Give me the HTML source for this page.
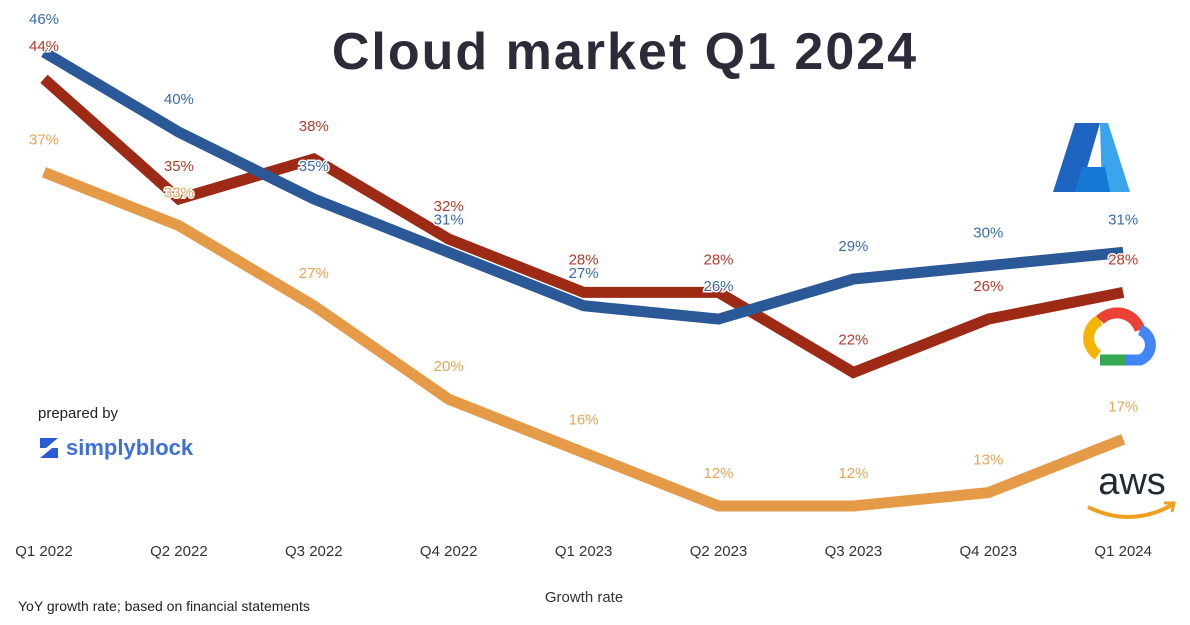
<!DOCTYPE html>
<html><head><meta charset="utf-8"><style>
body{margin:0;background:#fff;width:1190px;height:620px;overflow:hidden;font-family:"Liberation Sans",sans-serif}
</style></head><body>
<svg width="1190" height="620" viewBox="0 0 1190 620" id="svg">
<text x="625" y="69" text-anchor="middle" font-size="52" font-weight="bold" letter-spacing="2" fill="#2b2b3a" font-family="Liberation Sans, sans-serif">Cloud market Q1 2024</text>
<text x="584" y="602" text-anchor="middle" font-size="15" fill="#333">Growth rate</text>
<text x="18" y="611" font-size="14" fill="#222">YoY growth rate; based on financial statements</text>
<text x="38" y="418" font-size="15" fill="#222">prepared by</text>
<g>
<path d="M40 438 L58 438 L46 448 L58 448 L58 458 L40 458 L52 448 L40 448 Z" fill="#2a5bd7"/>
<text x="66" y="455" font-size="22" font-weight="bold" fill="#3f6fd8">simplyblock</text>
</g>
<g>
<path d="M1075 123 L1100 123 L1080 192 L1053 192 Z" fill="#1d64c1"/>
<path d="M1100 123 L1108 123 L1130 192 L1102 192 Z" fill="#3aa4ec"/>
<path d="M1082 167 L1105 167 L1110 192 L1075 192 Z" fill="#1578d4"/>
</g>
<g fill="none" stroke-width="11">
<path d="M1098 355 A20 20 0 0 1 1100 320" stroke="#f4b400"/>
<path d="M1100 320 A24 24 0 0 1 1140 330" stroke="#ea4335"/>
<path d="M1140 330 A16 16 0 0 1 1140 360 L1125 360" stroke="#4285f4"/>
<path d="M1125 360 L1100 360" stroke="#34a853"/>
</g>
<g>
<text x="1132" y="494" text-anchor="middle" font-size="38" fill="#222a35">aws</text>
<path d="M1088 507 Q1130 528 1172 505" fill="none" stroke="#f0a020" stroke-width="4"/>
<path d="M1164 503 L1174 503 L1172 512" fill="none" stroke="#f0a020" stroke-width="3"/>
</g>
<g id="xaxis"></g><g id="lines"></g><g id="labels"></g>
</svg>
<script>
const categories=["Q1 2022","Q2 2022","Q3 2022","Q4 2022","Q1 2023","Q2 2023","Q3 2023","Q4 2023","Q1 2024"];
const aws=[37,33,27,20,16,12,12,13,17];
const gcp=[44,35,38,32,28,28,22,26,28];
const azure=[46,40,35,31,27,26,29,30,31];
const NS="http://www.w3.org/2000/svg";
function xs(i){return 44+i*134.9;}
function ys(v){return 506-(v-12)*13.35;}
const xg=document.getElementById('xaxis'),lg=document.getElementById('lines'),tg=document.getElementById('labels');
categories.forEach((c,i)=>{const t=document.createElementNS(NS,'text');


t.setAttribute('x',xs(i));t.setAttribute('y',556);t.setAttribute('text-anchor','middle');t.setAttribute('font-size','15');t.setAttribute('fill','#333');t.textContent=c;xg.appendChild(t);});
const series=[["aws",aws,"#e59a48","#e8a458"],["gcp",gcp,"#9c2a14","#b23b2c"],["azure",azure,"#2b5897","#3a6aa8"]];
series.forEach(([n,d,lc,tc])=>{const p=document.createElementNS(NS,'polyline');


p.setAttribute('points',d.map((v,i)=>xs(i)+','+ys(v)).join(' '));
p.setAttribute('fill','none');p.setAttribute('stroke',lc);p.setAttribute('stroke-width','11');lg.appendChild(p);
d.forEach((v,i)=>{const t=document.createElementNS(NS,'text');


t.setAttribute('x',xs(i));t.setAttribute('y',ys(v)-28);t.setAttribute('text-anchor','middle');t.setAttribute('font-size','15');t.setAttribute('fill',tc);t.setAttribute('stroke','#fff');t.setAttribute('stroke-width','3');t.setAttribute('paint-order','stroke');t.textContent=v+'%';tg.appendChild(t);});});
</script>
</body></html>
